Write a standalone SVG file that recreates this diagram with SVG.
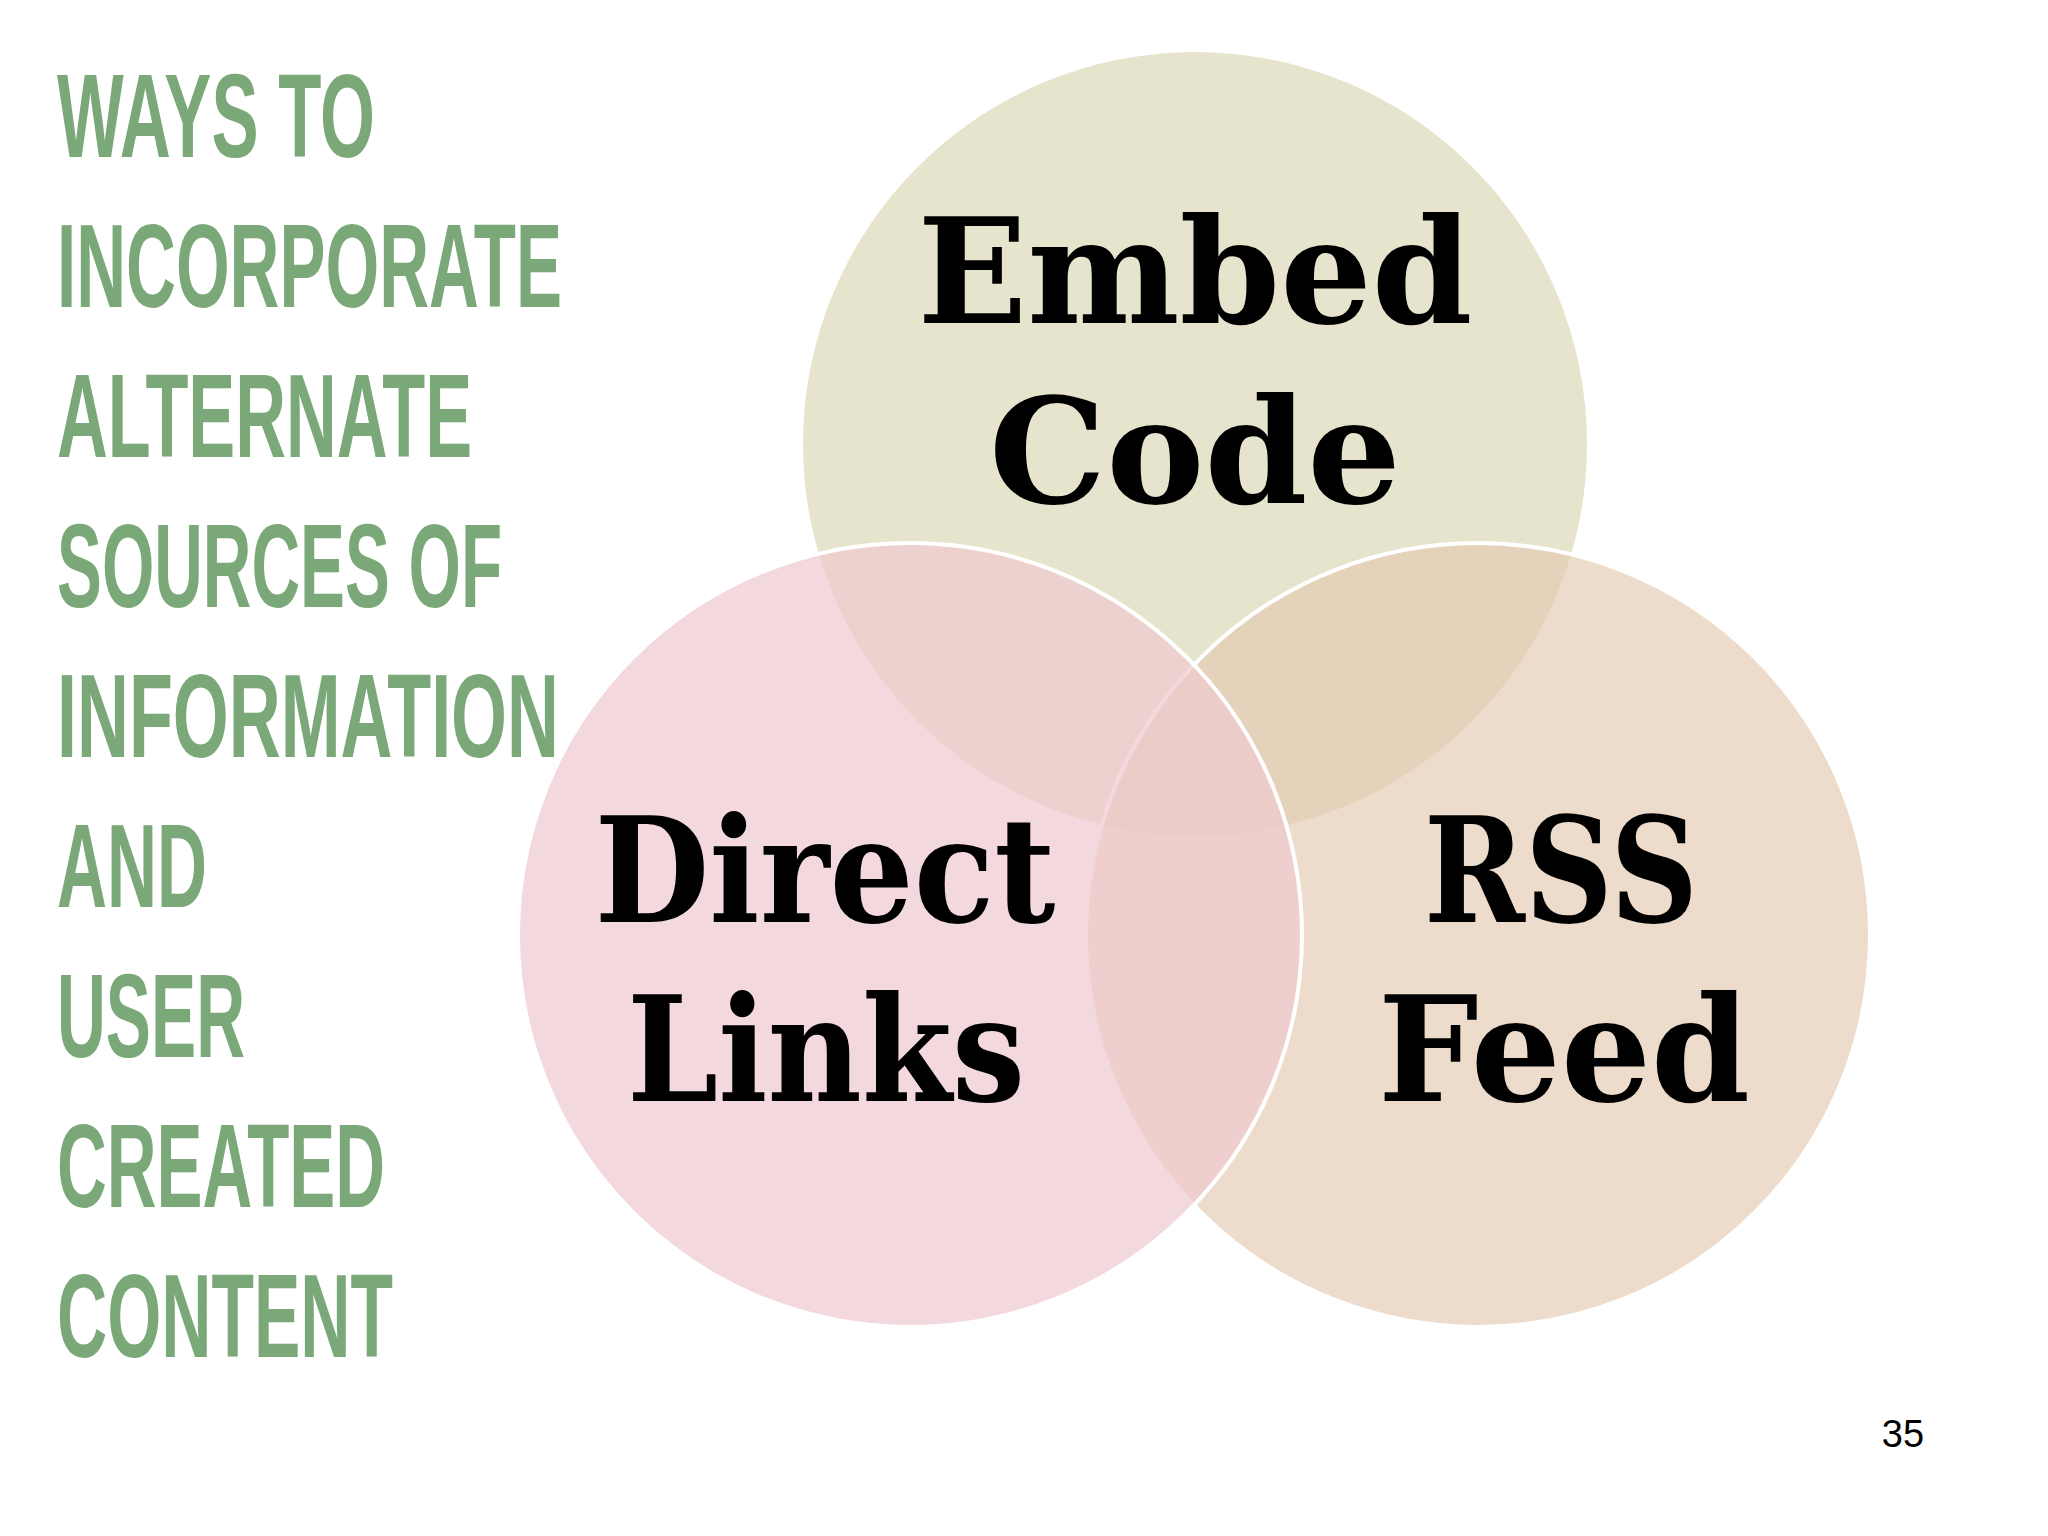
<svg xmlns="http://www.w3.org/2000/svg" width="2048" height="1536" viewBox="0 0 2048 1536">
<style>
.t{font-family:"Liberation Sans",Arial,sans-serif;font-weight:bold;fill:#7aa878;font-size:118px}
.l{font-family:"DejaVu Serif","Liberation Serif",serif;font-weight:bold;fill:#000;font-size:146px;text-anchor:middle}
</style>
<rect width="2048" height="1536" fill="#fff"/>
<g id="title">
<text class="t" x="57" y="157" textLength="318" lengthAdjust="spacingAndGlyphs">WAYS TO</text>
<text class="t" x="57" y="307" textLength="505" lengthAdjust="spacingAndGlyphs">INCORPORATE</text>
<text class="t" x="57" y="457" textLength="415" lengthAdjust="spacingAndGlyphs">ALTERNATE</text>
<text class="t" x="57" y="607" textLength="445" lengthAdjust="spacingAndGlyphs">SOURCES OF</text>
<text class="t" x="57" y="757" textLength="502" lengthAdjust="spacingAndGlyphs">INFORMATION</text>
<text class="t" x="57" y="907" textLength="150" lengthAdjust="spacingAndGlyphs">AND</text>
<text class="t" x="57" y="1057" textLength="188" lengthAdjust="spacingAndGlyphs">USER</text>
<text class="t" x="57" y="1207" textLength="328" lengthAdjust="spacingAndGlyphs">CREATED</text>
<text class="t" x="57" y="1357" textLength="336" lengthAdjust="spacingAndGlyphs">CONTENT</text>
</g>
<g id="circles">
<circle id="top" cx="1195" cy="444" r="392" fill="#d6d2aa" fill-opacity="0.6"/>
<circle id="right" cx="1478" cy="935" r="392" fill="#e4c9b0" fill-opacity="0.65" stroke="#fff" stroke-width="4"/>
<circle id="left" cx="910" cy="935" r="392" fill="#eec9ce" fill-opacity="0.7" stroke="#fff" stroke-width="4"/>
</g>
<g id="labels">
<text class="l" x="1195" y="323" textLength="555" lengthAdjust="spacingAndGlyphs">Embed</text>
<text class="l" x="1195" y="503" textLength="412" lengthAdjust="spacingAndGlyphs">Code</text>
<text class="l" x="825" y="922" textLength="461" lengthAdjust="spacingAndGlyphs">Direct</text>
<text class="l" x="826" y="1101" textLength="398" lengthAdjust="spacingAndGlyphs">Links</text>
<text class="l" x="1561" y="922" textLength="274" lengthAdjust="spacingAndGlyphs">RSS</text>
<text class="l" x="1564" y="1101" textLength="372" lengthAdjust="spacingAndGlyphs">Feed</text>
</g>
<text x="1903" y="1447" font-family="Liberation Sans,Arial,sans-serif" font-size="38" text-anchor="middle">35</text>
</svg>
